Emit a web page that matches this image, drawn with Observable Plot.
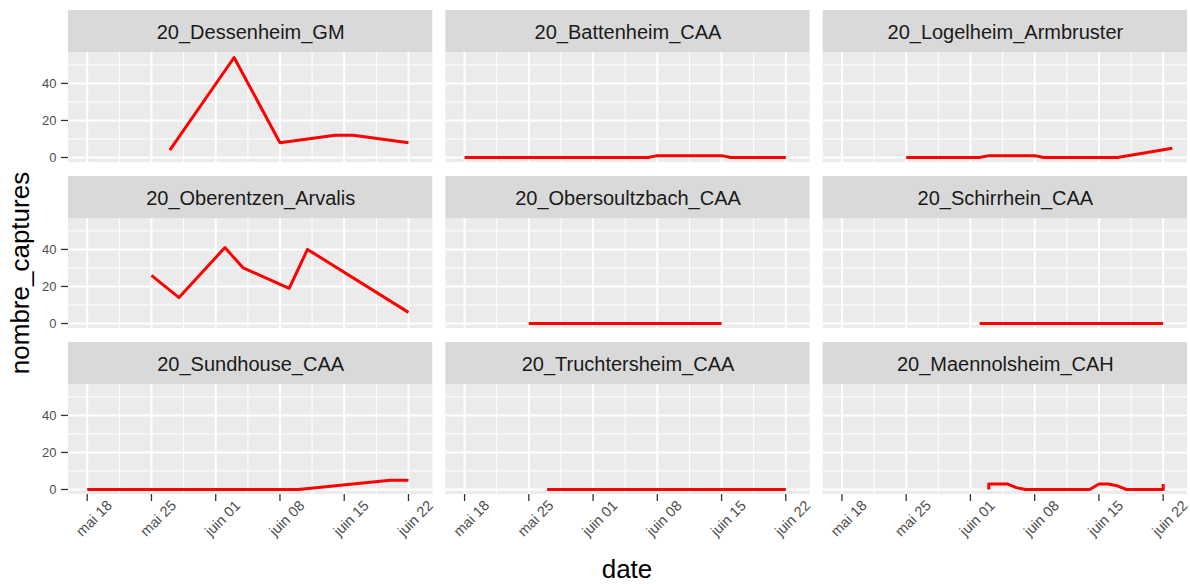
<!DOCTYPE html>
<html>
<head>
<meta charset="utf-8">
<script src="https://cdn.jsdelivr.net/npm/d3@7"></script>
<script src="https://cdn.jsdelivr.net/npm/@observablehq/plot@0.6"></script>
<style>
  html, body { margin: 0; padding: 0; background: #fff; }
  #wrap { position: relative; width: 1190px; height: 584px; font-family: "Liberation Sans", Arial, sans-serif; }
  #wrap svg { position: absolute; left: 0; top: 0; }
  .ttl { position: absolute; font-size: 26px; color: #000; white-space: nowrap; line-height: 1.1; }
</style>
</head>
<body>
<div id="wrap"></div>
<script>
// ---- data ----
const sites = ["20_Dessenheim_GM", "20_Battenheim_CAA", "20_Logelheim_Armbruster",
               "20_Oberentzen_Arvalis", "20_Obersoultzbach_CAA", "20_Schirrhein_CAA",
               "20_Sundhouse_CAA", "20_Truchtersheim_CAA", "20_Maennolsheim_CAH"];

const dessenheimDates = ["2020-05-27", "2020-06-03", "2020-06-08", "2020-06-14", "2020-06-16", "2020-06-22"];
const dessenheimValues = [4, 54, 8, 12, 12, 8];
const battenheimDates = ["2020-05-18", "2020-06-07", "2020-06-08", "2020-06-15", "2020-06-16", "2020-06-22"];
const battenheimValues = [0, 0, 1, 1, 0, 0];
const logelheimDates = ["2020-05-25", "2020-06-02", "2020-06-03", "2020-06-08", "2020-06-09", "2020-06-17", "2020-06-23"];
const logelheimValues = [0, 0, 1, 1, 0, 0, 5];
const oberentzenDates = ["2020-05-25", "2020-05-28", "2020-06-02", "2020-06-04", "2020-06-09", "2020-06-11", "2020-06-22"];
const oberentzenValues = [26, 14, 41, 30, 19, 40, 6];
const obersoultzbachDates = ["2020-05-25", "2020-06-15"];
const obersoultzbachValues = [0, 0];
const schirrheinDates = ["2020-06-02", "2020-06-22"];
const schirrheinValues = [0, 0];
const sundhouseDates = ["2020-05-18", "2020-06-10", "2020-06-20", "2020-06-22"];
const sundhouseValues = [0, 0, 5, 5];
const truchtersheimDates = ["2020-05-27", "2020-06-22"];
const truchtersheimValues = [0, 0];
const maennolsheimDates = ["2020-06-03", "2020-06-03", "2020-06-05", "2020-06-06", "2020-06-07", "2020-06-14",
                           "2020-06-15", "2020-06-16", "2020-06-17", "2020-06-18", "2020-06-22", "2020-06-22"];
const maennolsheimValues = [0, 3, 3, 1, 0, 0, 3, 3, 2, 0, 0, 3];

const xMajorTicks = ["2020-05-18", "2020-05-25", "2020-06-01", "2020-06-08", "2020-06-15", "2020-06-22"];
const xMinorTicks = ["2020-05-21T12:00", "2020-05-28T12:00", "2020-06-04T12:00", "2020-06-11T12:00", "2020-06-18T12:00"];
const xTickLabels = ["mai 18", "mai 25", "juin 01", "juin 08", "juin 15", "juin 22"];
const yMajorTicks = [0, 20, 40];
const yMinorTicks = [10, 30, 50];

// ---- build table ----
const seriesDates = [dessenheimDates, battenheimDates, logelheimDates, oberentzenDates, obersoultzbachDates,
                     schirrheinDates, sundhouseDates, truchtersheimDates, maennolsheimDates];
const seriesValues = [dessenheimValues, battenheimValues, logelheimValues, oberentzenValues, obersoultzbachValues,
                      schirrheinValues, sundhouseValues, truchtersheimValues, maennolsheimValues];
const toDate = s => new Date((s.length > 10 ? s : s + "T00:00") + "Z");
const rows = [];
sites.forEach((site, i) => {
  seriesDates[i].forEach((d, j) => rows.push({site, col: i % 3, row: Math.floor(i / 3), date: toDate(d), value: seriesValues[i][j]}));
});
const siteRows = sites.map((site, i) => ({site, col: i % 3, row: Math.floor(i / 3)}));
const majorDates = xMajorTicks.map(toDate);
const minorDates = xMinorTicks.map(toDate);

// ---- layout ----
const DAY = 864e5;
const xDomain = [new Date(+toDate("2020-05-18") - 2.04 * DAY), new Date(+toDate("2020-06-22") + 2.65 * DAY)];
const yLo = -2.7, yHi = 56.7;
const PANEL_H = 110, STRIP_H = 42;
const yTop = yLo + (yHi - yLo) * (PANEL_H + STRIP_H) / PANEL_H;

const chart = Plot.plot({
  width: 1190,
  height: 584,
  marginLeft: 68,
  marginRight: 3,
  marginTop: 10,
  marginBottom: 90,
  style: {fontFamily: "'Liberation Sans', Arial, sans-serif", background: "transparent", overflow: "visible"},
  x: {type: "utc", domain: xDomain, axis: null},
  y: {domain: [yLo, yTop], axis: null},
  fx: {domain: [0, 1, 2], axis: null, paddingInner: 0.0346, paddingOuter: 0, round: false},
  fy: {domain: [0, 1, 2], axis: null, paddingInner: 0.0843, paddingOuter: 0, round: false},
  marks: [
    Plot.rect(siteRows, {fx: "col", fy: "row", y1: yLo, y2: yHi, fill: "#EBEBEB"}),
    Plot.ruleY(yMinorTicks, {stroke: "white", strokeWidth: 1}),
    Plot.ruleX(minorDates, {y1: yLo, y2: yHi, stroke: "white", strokeWidth: 1}),
    Plot.ruleY(yMajorTicks, {stroke: "white", strokeWidth: 2}),
    Plot.ruleX(majorDates, {y1: yLo, y2: yHi, stroke: "white", strokeWidth: 2}),
    Plot.rect(siteRows, {fx: "col", fy: "row", y1: yHi, y2: yTop, fill: "#D9D9D9"}),
    Plot.text(siteRows, {fx: "col", fy: "row", text: "site", frameAnchor: "top", lineAnchor: "middle", dy: 22, fontSize: 20, fill: "#1A1A1A"}),
    Plot.line(rows, {fx: "col", fy: "row", x: "date", y: "value", z: "site", stroke: "#FF0000", strokeWidth: 3, strokeLinecap: "butt", strokeLinejoin: "round"}),
    Plot.axisX(majorDates, {facetAnchor: "bottom", tickSize: 7, tickFormat: () => "", label: null, stroke: "#333333", strokeWidth: 1.3}),
    Plot.text(majorDates, {x: d => d, text: (d, i) => xTickLabels[i], facetAnchor: "bottom", frameAnchor: "bottom", lineAnchor: "middle", rotate: -45, dx: 7, dy: 24, fontSize: 14.5, fill: "#4D4D4D"}),
    Plot.axisY(yMajorTicks, {facetAnchor: "left", tickSize: 7, tickPadding: 5, fontSize: 13, fill: "#4D4D4D", stroke: "#333333", strokeWidth: 1.3, label: null})
  ]
});

const wrap = document.getElementById("wrap");
wrap.appendChild(chart);

const xt = document.createElement("div");
xt.className = "ttl";
xt.textContent = "date";
xt.style.left = "627px"; xt.style.top = "569px";
xt.style.transform = "translate(-50%, -50%)";
wrap.appendChild(xt);

const yt = document.createElement("div");
yt.className = "ttl";
yt.textContent = "nombre_captures";
yt.style.left = "20px"; yt.style.top = "273px";
yt.style.transform = "translate(-50%, -50%) rotate(-90deg)";
wrap.appendChild(yt);
</script>
</body>
</html>
